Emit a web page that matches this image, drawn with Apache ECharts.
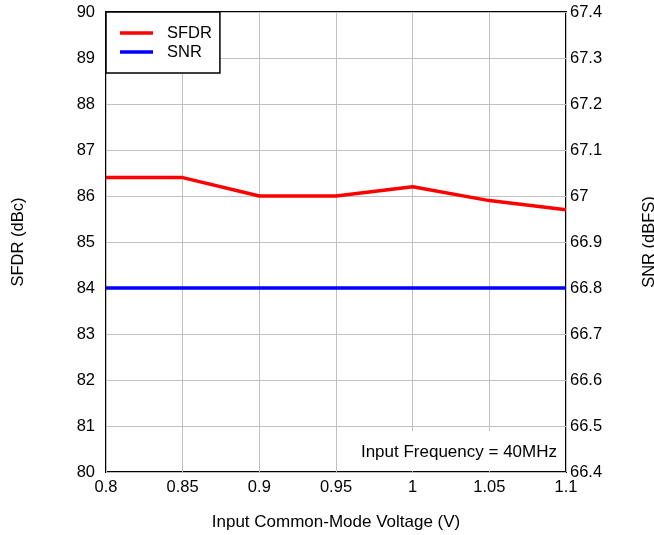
<!DOCTYPE html>
<html lang="en">
<head>
    <meta charset="UTF-8">
    <title>SFDR / SNR vs Input Common-Mode Voltage</title>
    <script src="https://cdn.jsdelivr.net/npm/echarts@6/dist/echarts.min.js"></script>
</head>
<body style="margin:0">
<div id="content" style="height: 535px;width: 654px"></div>
<script>
    // data
    var voltages = [0.8, 0.85, 0.9, 0.95, 1.0, 1.05, 1.1];
    var sfdrList = [86.4, 86.4, 86.0, 86.0, 86.2, 85.9, 85.7];
    var snrList = [66.8, 66.8, 66.8, 66.8, 66.8, 66.8, 66.8];

    var font = 'Liberation Sans, Arial, sans-serif';
    var fs = 16.5;
    var myChart = echarts.init(document.getElementById('content'));

    function pairs(xs, ys) {
        return xs.map(function (x, i) { return [x, ys[i]]; });
    }

    var option = {
        animation: false,
        textStyle: {fontFamily: font},
        grid: {
            left: 106, right: 88, top: 12, bottom: 63,
            outerBoundsMode: 'none',
            containLabel: false,
            show: true, borderColor: '#000', borderWidth: 2
        },
        legend: {
            orient: 'vertical',
            left: 106, top: 12,
            padding: [12, 8, 12, 14],
            icon: 'rect',
            itemWidth: 33, itemHeight: 3.5, itemGap: 1,
            backgroundColor: '#fff',
            borderColor: '#000', borderWidth: 1.5, borderRadius: 0,
            textStyle: {fontSize: fs, color: '#000', padding: [0, 0, 0, 9], lineHeight: 18},
            data: ['SFDR', 'SNR']
        },
        xAxis: {
            type: 'value',
            min: 0.8, max: 1.1, interval: 0.05,
            name: 'Input Common-Mode Voltage (V)',
            nameLocation: 'middle', nameGap: 42,
            nameTextStyle: {fontSize: 17, color: '#000'},
            axisLine: {show: false},
            axisTick: {show: false},
            axisLabel: {fontSize: fs, color: '#000', margin: 7,
                formatter: function (v) { return String(+v.toFixed(2)); }},
            splitLine: {lineStyle: {color: '#c0c0c0', width: 1}}
        },
        yAxis: [{
            type: 'value',
            min: 80, max: 90, interval: 1,
            name: 'SFDR (dBc)',
            nameLocation: 'middle', nameGap: 79,
            nameTextStyle: {fontSize: fs, color: '#000'},
            axisLine: {show: false},
            axisTick: {show: false},
            axisLabel: {fontSize: fs, color: '#000', margin: 11},
            splitLine: {lineStyle: {color: '#c0c0c0', width: 1}}
        }, {
            type: 'value',
            min: 66.4, max: 67.4, interval: 0.1,
            name: 'SNR (dBFS)',
            nameLocation: 'middle', nameGap: 75,
            nameTextStyle: {fontSize: fs, color: '#000'},
            axisLine: {show: false},
            axisTick: {show: false},
            axisLabel: {fontSize: fs, color: '#000', margin: 4,
                formatter: function (v) { return String(+v.toFixed(1)); }},
            splitLine: {show: false}
        }],
        series: [{
            name: 'SFDR',
            type: 'line',
            yAxisIndex: 0,
            symbol: 'none',
            lineStyle: {color: '#ff0000', width: 3.5},
            itemStyle: {color: '#ff0000'},
            data: pairs(voltages, sfdrList)
        }, {
            name: 'SNR',
            type: 'line',
            yAxisIndex: 1,
            symbol: 'none',
            lineStyle: {color: '#0000ff', width: 3.5},
            itemStyle: {color: '#0000ff'},
            data: pairs(voltages, snrList)
        }],
        graphic: [{
            type: 'rect',
            shape: {x: 355, y: 431, width: 210, height: 40},
            style: {fill: '#fff'},
            z: 100
        }, {
            type: 'text',
            right: 97, top: 444,
            style: {text: 'Input Frequency = 40MHz', font: '17px ' + font, fill: '#000'},
            z: 101
        }]
    };
    myChart.setOption(option);
</script>
</body>
</html>
